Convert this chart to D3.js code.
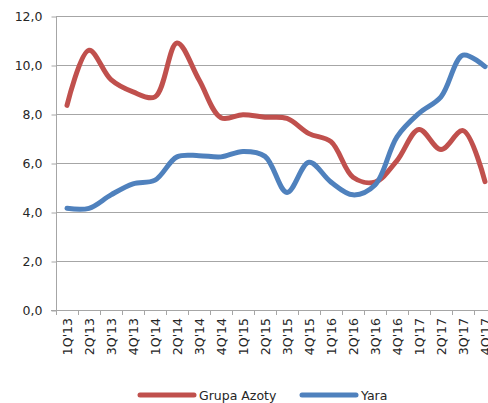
<!DOCTYPE html>
<html>
<head>
<meta charset="utf-8">
<script src="https://cdn.jsdelivr.net/npm/d3@7"></script>
<style>
  html, body { margin: 0; padding: 0; background: #fff; }
  svg { display: block; font-family: "DejaVu Sans", Verdana, sans-serif; }
</style>
</head>
<body>
<svg id="chart" width="488" height="403"></svg>
<script>
// Data
const quarters = ["1Q'13", "2Q'13", "3Q'13", "4Q'13", "1Q'14", "2Q'14", "3Q'14", "4Q'14",
  "1Q'15", "2Q'15", "3Q'15", "4Q'15", "1Q'16", "2Q'16", "3Q'16", "4Q'16",
  "1Q'17", "2Q'17", "3Q'17", "4Q'17"];
const grupaAzoty = [8.35, 10.6, 9.4, 8.9, 8.7, 10.9, 9.4, 7.85, 7.97, 7.87, 7.82, 7.2, 6.87, 5.42, 5.22, 6.1, 7.37, 6.55, 7.32, 5.24];
const yara = [4.15, 4.15, 4.7, 5.15, 5.3, 6.25, 6.3, 6.25, 6.47, 6.27, 4.8, 6.03, 5.22, 4.7, 5.1, 7.07, 8.03, 8.7, 10.4, 9.93];
const yTicks = [0, 2, 4, 6, 8, 10, 12];

const seriesList = [
  { name: 'Grupa Azoty', values: grupaAzoty, color: '#C0504D' },
  { name: 'Yara', values: yara, color: '#4F81BD' }
];

const svg = d3.select('#chart');
const plotLeft = 56, plotRight = 496, plotTop = 16, plotBottom = 310;

const x = d3.scaleBand().domain(quarters).range([plotLeft, plotRight]);
const y = d3.scaleLinear().domain([0, 12]).range([plotBottom, plotTop]);
const fmt = v => d3.format('.1f')(v).replace('.', ',');

// Gridlines
svg.append('g')
  .selectAll('line')
  .data(yTicks.filter(d => d > 0))
  .enter().append('line')
  .attr('x1', plotLeft).attr('x2', plotRight)
  .attr('y1', d => y(d) + 0.5).attr('y2', d => y(d) + 0.5)
  .attr('stroke', '#A6A6A6').attr('stroke-width', 1);

// Y axis
const yAxis = svg.append('g')
  .attr('transform', `translate(${plotLeft + 0.5},0.5)`)
  .call(d3.axisLeft(y).tickValues(yTicks).tickFormat(fmt).tickSize(5).tickPadding(9));
yAxis.select('.domain').attr('stroke', '#A6A6A6').attr('d', `M0,${plotTop}V${plotBottom}`);
yAxis.selectAll('.tick line').attr('stroke', '#A6A6A6');
yAxis.selectAll('.tick text')
  .attr('fill', '#262626')
  .style('font-size', '12.5px')
  .style('font-family', '"DejaVu Sans", Verdana, sans-serif');

// X axis line and ticks at category boundaries
const xg = svg.append('g');
xg.append('line')
  .attr('x1', plotLeft - 5).attr('x2', plotRight)
  .attr('y1', plotBottom + 0.5).attr('y2', plotBottom + 0.5)
  .attr('stroke', '#A6A6A6');
xg.selectAll('.xtick')
  .data(quarters.map(q => x(q)).concat([x.range()[1]]))
  .enter().append('line')
  .attr('class', 'xtick')
  .attr('x1', d => Math.round(d) + 0.5).attr('x2', d => Math.round(d) + 0.5)
  .attr('y1', plotBottom).attr('y2', plotBottom + 5)
  .attr('stroke', '#A6A6A6');
xg.selectAll('text')
  .data(quarters)
  .enter().append('text')
  .attr('transform', d => `translate(${x(d) + x.bandwidth() / 2 + 4.5},${plotBottom + 8}) rotate(-90)`)
  .attr('text-anchor', 'end')
  .attr('fill', '#262626')
  .style('font-size', '12.5px')
  .text(d => d);

// Lines
const line = d3.line()
  .x((d, i) => x(quarters[i]) + x.bandwidth() / 2)
  .y(d => y(d))
  .curve(d3.curveCatmullRom.alpha(0.5));

svg.append('g')
  .selectAll('path')
  .data(seriesList)
  .enter().append('path')
  .attr('d', d => line(d.values))
  .attr('fill', 'none')
  .attr('stroke', d => d.color)
  .attr('stroke-width', 5)
  .attr('stroke-linecap', 'round')
  .attr('stroke-linejoin', 'round');

// Legend
const legend = svg.append('g');
const legendPos = [140, 302];
seriesList.forEach((s, i) => {
  const lx = legendPos[i];
  legend.append('line')
    .attr('x1', lx).attr('x2', lx + 54)
    .attr('y1', 395).attr('y2', 395)
    .attr('stroke', s.color).attr('stroke-width', 5)
    .attr('stroke-linecap', 'round');
  legend.append('text')
    .attr('x', lx + 59).attr('y', 399.5)
    .attr('fill', '#262626')
    .style('font-size', '12.5px')
    .text(s.name);
});
</script>
</body>
</html>
